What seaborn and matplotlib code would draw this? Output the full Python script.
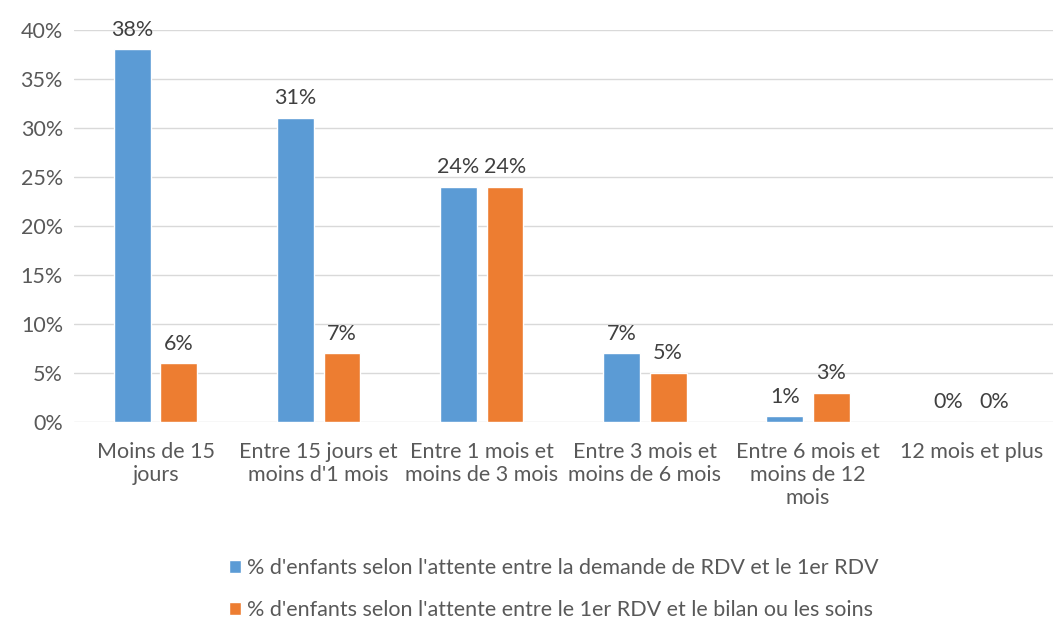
import pandas as pd
import matplotlib.pyplot as plt
import seaborn as sns

# Waiting-time categories and the two series (in %)
categories = ['Moins de 15\njours', 'Entre 15 jours et\nmoins d\'1 mois', 'Entre 1 mois et\nmoins de 3 mois',
              'Entre 3 mois et\nmoins de 6 mois', 'Entre 6 mois et\nmoins de 12\nmois', '12 mois et plus']
series_names = ["% d'enfants selon l'attente entre la demande de RDV et le 1er RDV",
                "% d'enfants selon l'attente entre le 1er RDV et le bilan ou les soins"]
demande_rdv = [38, 31, 24, 7, 0.6, 0]
rdv_bilan = [6, 7, 24, 5, 3, 0]

df = pd.DataFrame({
    'categorie': categories * 2,
    'serie': [series_names[0]] * len(categories) + [series_names[1]] * len(categories),
    'valeur': demande_rdv + rdv_bilan,
})

sns.set_style('white')
plt.rcParams['font.family'] = ['Lato', 'DejaVu Sans']
text_color = '#595959'
fs = 15.5

fig = plt.figure(figsize=(10.58, 6.19), dpi=100)
ax = fig.add_axes([0.070, 0.318, 0.925, 0.634])

sns.barplot(data=df, x='categorie', y='valeur', hue='serie',
            palette=['#5B9BD5', '#ED7D31'], width=0.57, gap=0.21,
            saturation=1, ax=ax, legend=True)

# Data labels
for container in ax.containers:
    ax.bar_label(container, labels=[f'{v:.0f}%' for v in container.datavalues],
                 padding=7, fontsize=fs, color='#404040')

ax.set_ylim(0, 40)
ax.set_xlim(-0.5, 5.5)
ax.set_yticks(range(0, 41, 5))
ax.set_yticklabels([f'{t}%' for t in range(0, 41, 5)])
ax.yaxis.grid(True, color='#D9D9D9', linewidth=1)
ax.set_axisbelow(True)
ax.tick_params(axis='both', length=0, labelsize=fs, labelcolor=text_color)
ax.tick_params(axis='x', pad=14)
ax.tick_params(axis='y', pad=8)
ax.set_xlabel('')
ax.set_ylabel('')
for side in ['top', 'right', 'left', 'bottom']:
    ax.spines[side].set_visible(False)

handles, labels = ax.get_legend_handles_labels()
ax.legend(handles, labels, loc='center', bbox_to_anchor=(0.49, -0.425),
          ncol=1, frameon=False, fontsize=fs, labelcolor=text_color,
          handlelength=0.55, handleheight=0.55, handletextpad=0.3, labelspacing=1.0)

plt.savefig('out.png', dpi=100)
